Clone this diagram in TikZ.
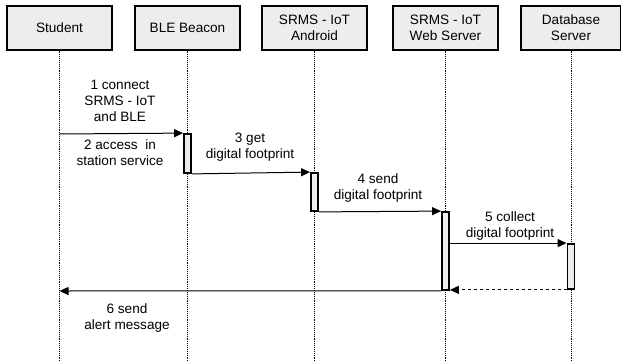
\documentclass[tikz,border=0pt]{standalone}
\usepackage{fontspec}
\setmainfont{Liberation Sans}
\usetikzlibrary{arrows.meta}
\tikzset{
  actor/.style={draw,fill=gray!14,line width=1.2pt,minimum width=105pt,minimum height=44pt,align=center,inner sep=2pt},
  bar/.style={draw,fill=gray!14,line width=1.8pt,minimum width=7pt,inner sep=0pt},
  life/.style={densely dotted,line width=0.9pt},
  msg/.style={line width=1pt,-{Triangle[length=9pt,width=8pt]}},
  lbl/.style={align=center,inner sep=0pt}
}
\begin{document}
\begin{tikzpicture}[x=1pt,y=-1pt,font=\fontsize{13.6}{16}\selectfont]
				\useasboundingbox (0,0) rectangle (621,361);
				\node[actor] (student) at (59.5,28) {Student};
				\node[actor] (beacon) at (187.5,28) {BLE Beacon};
				\node[actor] (android) at (314.5,28) {SRMS - IoT\\Android};
				\node[actor] (web) at (445.5,28) {SRMS - IoT\\Web Server};
				\node[actor,minimum width=100pt] (db) at (571,28) {Database\\Server};
				\foreach \n in {student,beacon,android,web,db}
					\draw[life] (\n.south) -- (\n.south |- 0,361);
				\node[bar,minimum height=39pt] (b1) at (187.5,153.5) {};
				\node[bar,minimum height=38pt] (a1) at (314.5,192) {};
				\node[bar,minimum height=78pt] (w1) at (445.5,251) {};
				\node[bar,minimum height=45pt] (d1) at (571,266.5) {};
				\coordinate (s1) at (59.5,134);
				\coordinate (s6) at (59.5,291);
				\draw[msg] (s1) -- (b1.north west);
				\draw[msg] (b1.south east) -- (a1.north west);
				\draw[msg] (a1.south east) -- (w1.north west);
				\draw[msg] (w1.east |- d1.north) -- (d1.north west);
				\draw[msg,dashed] (d1.south west) -- (w1.east |- d1.south);
				\draw[msg] (w1.south west) -- (s6);
				\node[lbl] (m1) at (120,101) {1 connect\\SRMS - IoT\\and BLE};
				\node[lbl] (m2) at (120,152.5) {2 access \ in\\station service};
				\node[lbl] (m3) at (250,147) {3 get\\digital footprint};
				\node[lbl] (m4) at (378,187.5) {4 send\\digital footprint};
				\node[lbl] (m5) at (510,226) {5 collect\\digital footprint};
				\node[lbl] (m6) at (127,318) {6 send\\alert message};
			\end{tikzpicture}
\end{document}
